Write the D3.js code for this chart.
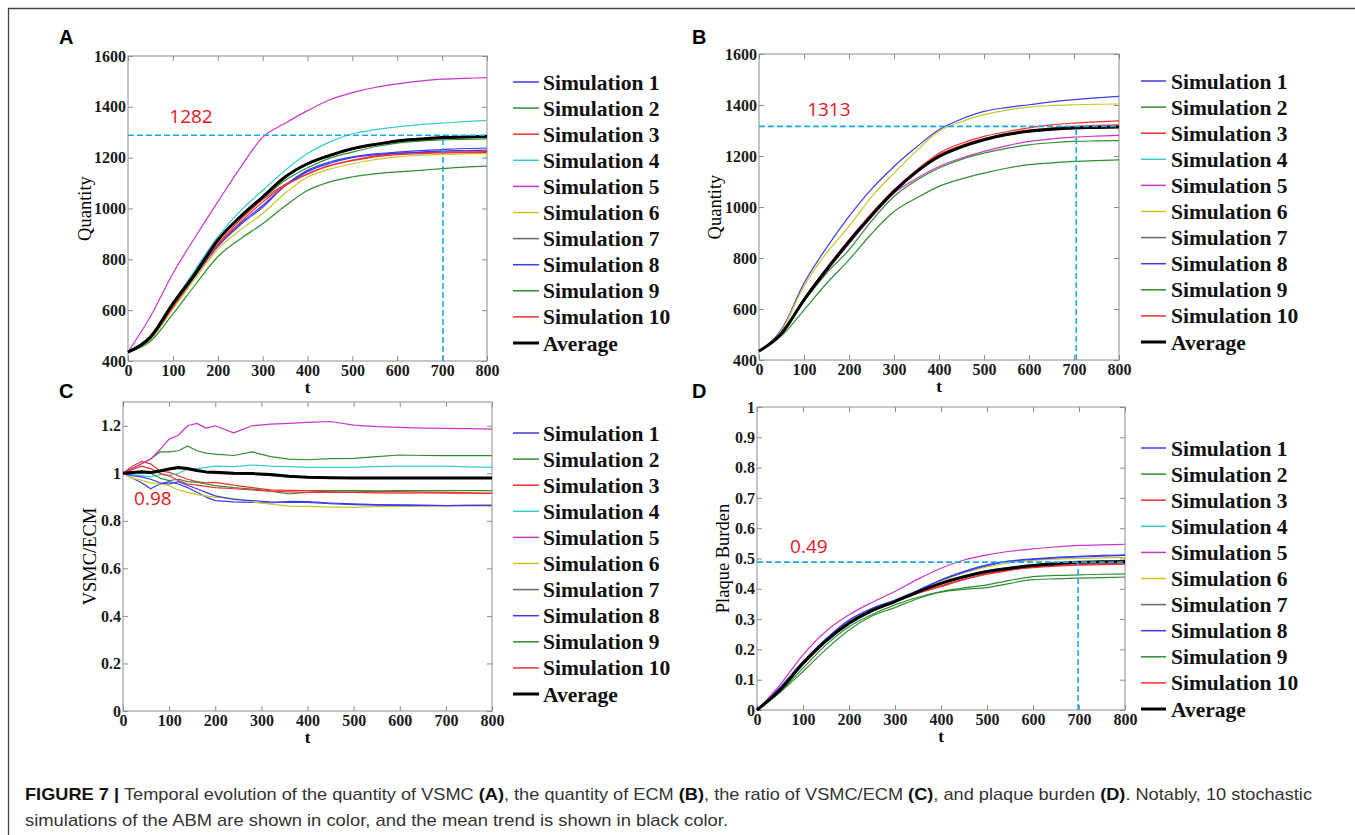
<!DOCTYPE html>
<html>
<head>
<meta charset="utf-8">
<script src="https://cdn.jsdelivr.net/npm/d3@7"></script>
<style>
  body { margin: 0; background: #fff; }
  svg { display: block; }
</style>
</head>
<body>
<svg id="fig" width="1355" height="835"></svg>
<script>
// ---- data ----
const seriesNames = ["Simulation 1", "Simulation 2", "Simulation 3", "Simulation 4", "Simulation 5",
  "Simulation 6", "Simulation 7", "Simulation 8", "Simulation 9", "Simulation 10", "Average"];
const seriesColors = ["#3b3bf0", "#2f8f2f", "#f03030", "#35cccc", "#cc35cc",
  "#c8c825", "#666666", "#3b3bf0", "#2f8f2f", "#f03030", "#000000"];

const xTicks = [0, 100, 200, 300, 400, 500, 600, 700, 800];
const qtyTicks = [400, 600, 800, 1000, 1200, 1400, 1600];
const ratioTicks = [0, 0.2, 0.4, 0.6, 0.8, 1, 1.2];
const burdenTicks = [0, 0.1, 0.2, 0.3, 0.4, 0.5, 0.6, 0.7, 0.8, 0.9, 1];

// time points
const tStep50 = [0, 50, 100, 150, 200, 250, 300, 350, 400, 450, 500, 550, 600, 650, 700, 750, 800];
const tRatio = [0, 20, 40, 60, 80, 100, 120, 140, 160, 180, 200, 240, 280, 320, 360, 400, 450, 500, 550, 600, 650, 700, 750, 800];

// (A) quantity of VSMC
const vsmcSims = [
  [435, 488, 608, 735, 850, 935, 1005, 1090, 1150, 1183, 1203, 1215, 1222, 1228, 1232, 1236, 1238],
  [435, 498, 625, 755, 875, 968, 1040, 1110, 1160, 1198, 1222, 1243, 1257, 1265, 1270, 1272, 1274],
  [435, 492, 618, 742, 860, 955, 1035, 1095, 1137, 1170, 1190, 1207, 1216, 1220, 1222, 1223, 1224],
  [435, 495, 628, 760, 888, 990, 1071, 1150, 1216, 1262, 1294, 1310, 1321, 1330, 1336, 1342, 1347],
  [435, 575, 744, 888, 1026, 1160, 1280, 1335, 1385, 1428, 1456, 1476, 1490, 1501, 1509, 1512, 1515],
  [435, 485, 605, 725, 840, 915, 980, 1060, 1124, 1155, 1176, 1192, 1203, 1209, 1213, 1215, 1216],
  [435, 494, 624, 744, 872, 965, 1043, 1120, 1174, 1206, 1232, 1250, 1263, 1270, 1276, 1279, 1281],
  [435, 490, 615, 738, 855, 940, 1012, 1088, 1145, 1178, 1200, 1212, 1218, 1222, 1226, 1228, 1230],
  [435, 478, 585, 700, 810, 880, 940, 1010, 1071, 1105, 1124, 1136, 1144, 1150, 1157, 1163, 1167],
  [435, 490, 612, 738, 855, 945, 1025, 1090, 1135, 1168, 1188, 1203, 1212, 1216, 1219, 1220, 1221]
];
const vsmcAvg = [435, 494, 626, 744, 875, 967, 1045, 1124, 1176, 1209, 1235, 1252, 1266, 1273, 1279, 1281, 1284];

// (B) quantity of ECM
const ecmSims = [
  [435, 520, 701, 840, 963, 1070, 1159, 1235, 1303, 1345, 1375, 1390, 1401, 1412, 1421, 1428, 1434],
  [435, 500, 630, 740, 832, 945, 1041, 1105, 1153, 1187, 1211, 1230, 1244, 1252, 1257, 1259, 1260],
  [435, 505, 640, 760, 871, 975, 1067, 1145, 1211, 1250, 1277, 1295, 1310, 1322, 1329, 1334, 1338],
  [435, 503, 636, 752, 860, 965, 1058, 1135, 1195, 1235, 1262, 1282, 1295, 1303, 1308, 1311, 1313],
  [435, 500, 632, 748, 855, 960, 1054, 1112, 1159, 1192, 1218, 1240, 1257, 1267, 1274, 1278, 1281],
  [435, 515, 690, 820, 924, 1040, 1133, 1220, 1297, 1335, 1362, 1380, 1392, 1398, 1401, 1403, 1404],
  [435, 503, 634, 750, 862, 968, 1060, 1138, 1198, 1236, 1262, 1282, 1296, 1303, 1308, 1311, 1312],
  [435, 504, 638, 752, 866, 970, 1062, 1140, 1200, 1238, 1265, 1284, 1298, 1305, 1310, 1313, 1315],
  [435, 495, 596, 700, 793, 895, 982, 1035, 1081, 1110, 1133, 1152, 1166, 1173, 1179, 1182, 1185],
  [435, 504, 637, 754, 868, 972, 1063, 1140, 1205, 1242, 1268, 1288, 1302, 1310, 1316, 1320, 1322]
];
const ecmAvg = [435, 504, 636, 754, 865, 967, 1061, 1138, 1198, 1236, 1264, 1284, 1297, 1305, 1310, 1312, 1314];

// (C) ratio VSMC/ECM
const ratioSims = [
  [1.0, 0.98, 0.96, 0.935, 0.955, 0.965, 0.955, 0.94, 0.92, 0.9, 0.885, 0.88, 0.878, 0.875, 0.882, 0.881, 0.875, 0.871, 0.868, 0.867, 0.866, 0.864, 0.864, 0.864],
  [1.0, 1.02, 1.04, 1.06, 1.09, 1.09, 1.095, 1.115, 1.095, 1.085, 1.081, 1.075, 1.09, 1.07, 1.06, 1.057, 1.062, 1.063, 1.07, 1.077, 1.075, 1.074, 1.074, 1.074],
  [1.0, 1.03, 1.05, 1.04, 1.01, 1.004, 0.99, 0.975, 0.965, 0.96, 0.962, 0.95, 0.94, 0.93, 0.928, 0.927, 0.927, 0.926, 0.923, 0.923, 0.921, 0.92, 0.918, 0.917],
  [1.0, 0.995, 0.99, 0.985, 0.995, 0.99, 1.0, 1.018, 1.02, 1.025, 1.03, 1.028, 1.035, 1.03, 1.028, 1.025, 1.025, 1.025, 1.028, 1.03, 1.03, 1.03, 1.027, 1.025],
  [1.0, 1.02, 1.04, 1.06, 1.1, 1.144, 1.16, 1.2, 1.21, 1.19, 1.2, 1.17, 1.2, 1.207, 1.21, 1.214, 1.218, 1.203, 1.196, 1.193, 1.19, 1.189, 1.188, 1.186],
  [1.0, 0.98, 0.97, 0.96, 0.955, 0.948, 0.93, 0.92, 0.91, 0.905, 0.899, 0.895, 0.88, 0.87, 0.862, 0.861, 0.858, 0.857, 0.86, 0.861, 0.863, 0.864, 0.866, 0.867],
  [1.0, 1.005, 1.01, 1.005, 1.01, 1.015, 1.02, 1.015, 1.01, 1.005, 1.0, 0.998, 0.997, 0.99, 0.985, 0.983, 0.98, 0.98, 0.98, 0.98, 0.98, 0.98, 0.98, 0.98],
  [1.0, 0.99, 0.985, 0.975, 0.96, 0.955, 0.965, 0.95, 0.935, 0.92, 0.905, 0.89, 0.885, 0.88, 0.878, 0.878, 0.872, 0.868, 0.866, 0.865, 0.864, 0.864, 0.865, 0.865],
  [1.0, 1.0, 1.01, 1.0, 0.98, 0.969, 0.975, 0.965, 0.962, 0.955, 0.948, 0.94, 0.934, 0.925, 0.913, 0.92, 0.925, 0.927, 0.926, 0.927, 0.927, 0.927, 0.927, 0.927],
  [1.0, 1.015, 1.03, 1.02, 1.0, 0.99, 0.97, 0.955, 0.95, 0.945, 0.94, 0.935, 0.93, 0.925, 0.922, 0.92, 0.92, 0.92, 0.918, 0.917, 0.918, 0.917, 0.916, 0.915]
];
const ratioAvg = [1.0, 1.003, 1.005, 1.003, 1.01, 1.018, 1.025, 1.02, 1.012, 1.006, 1.004, 1.0, 0.999, 0.995, 0.988, 0.983, 0.981, 0.98, 0.98, 0.98, 0.98, 0.98, 0.98, 0.98];

// (D) plaque burden
const burdenSims = [
  [0, 0.075, 0.16, 0.235, 0.297, 0.336, 0.363, 0.395, 0.43, 0.458, 0.479, 0.492, 0.499, 0.504, 0.507, 0.51, 0.512],
  [0, 0.06, 0.138, 0.215, 0.275, 0.315, 0.347, 0.372, 0.391, 0.403, 0.413, 0.428, 0.44, 0.444, 0.446, 0.448, 0.449],
  [0, 0.065, 0.15, 0.225, 0.285, 0.33, 0.358, 0.385, 0.407, 0.43, 0.448, 0.461, 0.47, 0.475, 0.478, 0.48, 0.481],
  [0, 0.067, 0.155, 0.23, 0.29, 0.332, 0.36, 0.39, 0.42, 0.443, 0.46, 0.472, 0.48, 0.486, 0.489, 0.491, 0.492],
  [0, 0.083, 0.182, 0.26, 0.314, 0.355, 0.391, 0.432, 0.468, 0.495, 0.512, 0.524, 0.532, 0.538, 0.543, 0.545, 0.547],
  [0, 0.07, 0.158, 0.232, 0.293, 0.334, 0.362, 0.393, 0.425, 0.452, 0.472, 0.486, 0.494, 0.498, 0.5, 0.502, 0.503],
  [0, 0.066, 0.154, 0.228, 0.287, 0.33, 0.358, 0.39, 0.418, 0.44, 0.457, 0.468, 0.477, 0.483, 0.487, 0.489, 0.49],
  [0, 0.07, 0.158, 0.233, 0.295, 0.335, 0.362, 0.393, 0.428, 0.455, 0.476, 0.49, 0.497, 0.502, 0.505, 0.508, 0.51],
  [0, 0.058, 0.127, 0.2, 0.264, 0.31, 0.338, 0.368, 0.389, 0.398, 0.404, 0.418, 0.43, 0.433, 0.435, 0.437, 0.439],
  [0, 0.066, 0.152, 0.226, 0.286, 0.33, 0.357, 0.386, 0.41, 0.432, 0.45, 0.463, 0.472, 0.477, 0.48, 0.482, 0.483]
];
const burdenAvg = [0, 0.066, 0.154, 0.228, 0.286, 0.328, 0.358, 0.39, 0.418, 0.44, 0.457, 0.468, 0.477, 0.483, 0.488, 0.489, 0.49];

// reference marks (dashed guides + red annotation)
const guideValues = [1288, 1316, null, 0.488];
const guideTimes = [702, 705, null, 698];
const annotations = ["1282", "1313", "0.98", "0.49"];

// ---- layout ----
const panels = [
  { letter: "A", t: tStep50, sims: vsmcSims, avg: vsmcAvg, domain: [400, 1600], ticks: qtyTicks, yLabel: "Quantity",
    box: { l: 128, t: 56, r: 487, b: 361 }, letterPos: [59, 44], yLabelDx: 43, legend: [513, 539, 543, 82],
    note: [92, 1335], smooth: true },
  { letter: "B", t: tStep50, sims: ecmSims, avg: ecmAvg, domain: [400, 1600], ticks: qtyTicks, yLabel: "Quantity",
    box: { l: 759, t: 54, r: 1119, b: 360 }, letterPos: [692, 44], yLabelDx: 44, legend: [1141, 1166, 1171, 81],
    note: [107, 1357], smooth: true },
  { letter: "C", t: tRatio, sims: ratioSims, avg: ratioAvg, domain: [0, 1.3], ticks: ratioTicks, yLabel: "VSMC/ECM",
    box: { l: 123, t: 402, r: 492, b: 711 }, letterPos: [59, 398], yLabelDx: 33, legend: [513, 539, 543, 433],
    note: [24, 0.868], smooth: false },
  { letter: "D", t: tStep50, sims: burdenSims, avg: burdenAvg, domain: [0, 1], ticks: burdenTicks, yLabel: "Plaque Burden",
    box: { l: 757, t: 407, r: 1125, b: 710 }, letterPos: [692, 398], yLabelDx: 34, legend: [1141, 1166, 1171, 448],
    note: [72, 0.518], smooth: true }
];

const svg = d3.select("#fig");
const serif = "'Liberation Serif', 'Times New Roman', serif";
const sans = "'Liberation Sans', Arial, sans-serif";
const boxColor = "#8c8c8c";

// figure frame (left and top rules)
svg.append("path")
  .attr("d", "M8.5,835 V8.5 H1355")
  .attr("fill", "none")
  .attr("stroke", "#444")
  .attr("stroke-width", 1.3);

panels.forEach((p, pi) => {
  const x = d3.scaleLinear().domain([0, 800]).range([p.box.l, p.box.r]);
  const y = d3.scaleLinear().domain(p.domain).range([p.box.b, p.box.t]);
  const g = svg.append("g").attr("class", "panel-" + p.letter);

  // axes with inward ticks on all four sides
  const styleAxis = sel => {
    sel.attr("font-size", null).attr("font-family", null);
    sel.select(".domain").remove();
    sel.selectAll(".tick line").attr("stroke", boxColor);
    sel.selectAll(".tick text")
      .attr("fill", "#1a1a1a")
      .style("font-family", serif)
      .style("font-weight", "bold")
      .style("font-size", "16px");
  };
  g.append("g").attr("transform", `translate(0,${p.box.b})`)
    .call(d3.axisBottom(x).tickValues(xTicks).tickSize(-5).tickPadding(4).tickFormat(d3.format("d")))
    .call(styleAxis);
  g.append("g").attr("transform", `translate(0,${p.box.t})`)
    .call(d3.axisTop(x).tickValues(xTicks).tickSize(-5).tickFormat(""))
    .call(styleAxis);
  g.append("g").attr("transform", `translate(${p.box.l},0)`)
    .call(d3.axisLeft(y).tickValues(p.ticks).tickSize(-5).tickPadding(2).tickFormat(d => String(d)))
    .call(styleAxis);
  g.append("g").attr("transform", `translate(${p.box.r},0)`)
    .call(d3.axisRight(y).tickValues(p.ticks).tickSize(-5).tickFormat(""))
    .call(styleAxis);

  g.append("rect")
    .attr("x", p.box.l).attr("y", p.box.t)
    .attr("width", p.box.r - p.box.l).attr("height", p.box.b - p.box.t)
    .attr("fill", "none").attr("stroke", boxColor).attr("stroke-width", 1);

  // series
  const line = d3.line()
    .x((d, i) => x(p.t[i]))
    .y(d => y(d))
    .curve(p.smooth ? d3.curveMonotoneX : d3.curveLinear);
  const all = p.sims.concat([p.avg]);
  g.selectAll(".series")
    .data(all)
    .join("path")
    .attr("class", "series")
    .attr("d", line)
    .attr("fill", "none")
    .attr("stroke", (d, i) => seriesColors[i])
    .attr("stroke-width", (d, i) => i === 10 ? 3 : 1.2)
    .attr("stroke-linejoin", "round");

  // dashed guides
  if (guideValues[pi] !== null) {
    const gy = y(guideValues[pi]);
    g.append("line")
      .attr("x1", p.box.l).attr("x2", p.box.r)
      .attr("y1", gy).attr("y2", gy)
      .attr("stroke", "#1ea7e6").attr("stroke-width", 1.6).attr("stroke-dasharray", "6,3");
    g.append("line")
      .attr("x1", x(guideTimes[pi])).attr("x2", x(guideTimes[pi]))
      .attr("y1", p.box.b).attr("y2", gy)
      .attr("stroke", "#1ea7e6").attr("stroke-width", 1.6).attr("stroke-dasharray", "6,3");
  }
  g.append("text")
    .attr("x", x(p.note[0])).attr("y", y(p.note[1]))
    .attr("fill", "#e8141c")
    .attr("font-family", "'Open Sans', 'Noto Sans', sans-serif")
    .attr("font-size", "19px")
    .text(annotations[pi]);

  // labels
  g.append("text")
    .attr("x", p.letterPos[0]).attr("y", p.letterPos[1])
    .attr("font-family", sans).attr("font-weight", "bold").attr("font-size", "20px")
    .text(p.letter);
  g.append("text")
    .attr("x", (p.box.l + p.box.r) / 2).attr("y", p.box.b + 32)
    .attr("text-anchor", "middle")
    .attr("font-family", serif).attr("font-weight", "bold").attr("font-size", "17px")
    .text("t");
  g.append("text")
    .attr("transform", `translate(${p.box.l - p.yLabelDx},${(p.box.t + p.box.b) / 2}) rotate(-90)`)
    .attr("text-anchor", "middle")
    .attr("dy", "0.35em")
    .attr("font-family", serif).attr("font-size", "18.5px")
    .text(p.yLabel);

  // legend
  const [lx1, lx2, tx, ly0] = p.legend;
  const rows = g.selectAll(".legend-row")
    .data(seriesNames)
    .join("g")
    .attr("class", "legend-row")
    .attr("transform", (d, i) => `translate(0,${ly0 + i * 26.1})`);
  rows.append("line")
    .attr("x1", lx1).attr("x2", lx2)
    .attr("stroke", (d, i) => seriesColors[i])
    .attr("stroke-width", (d, i) => i === 10 ? 3 : 1.5);
  rows.append("text")
    .attr("x", tx).attr("dy", "0.35em")
    .attr("font-family", serif).attr("font-weight", "bold").attr("font-size", "21.5px")
    .attr("fill", "#111")
    .text(d => d);
});

// caption
const cap1 = svg.append("text")
  .attr("x", 25).attr("y", 800)
  .attr("font-family", sans).attr("font-size", "17px").attr("fill", "#333")
  .attr("textLength", 1287).attr("lengthAdjust", "spacingAndGlyphs");
[["FIGURE 7 | ", true], ["Temporal evolution of the quantity of VSMC ", false], ["(A)", true],
 [", the quantity of ECM ", false], ["(B)", true], [", the ratio of VSMC/ECM ", false], ["(C)", true],
 [", and plaque burden ", false], ["(D)", true], [". Notably, 10 stochastic", false]]
  .forEach(([s, b]) => cap1.append("tspan")
    .attr("font-weight", b ? "bold" : "normal")
    .attr("fill", b ? "#111" : "#333")
    .text(s));
svg.append("text")
  .attr("x", 25).attr("y", 826)
  .attr("font-family", sans).attr("font-size", "17px").attr("fill", "#333")
  .attr("textLength", 703).attr("lengthAdjust", "spacingAndGlyphs")
  .text("simulations of the ABM are shown in color, and the mean trend is shown in black color.");
</script>
</body>
</html>
